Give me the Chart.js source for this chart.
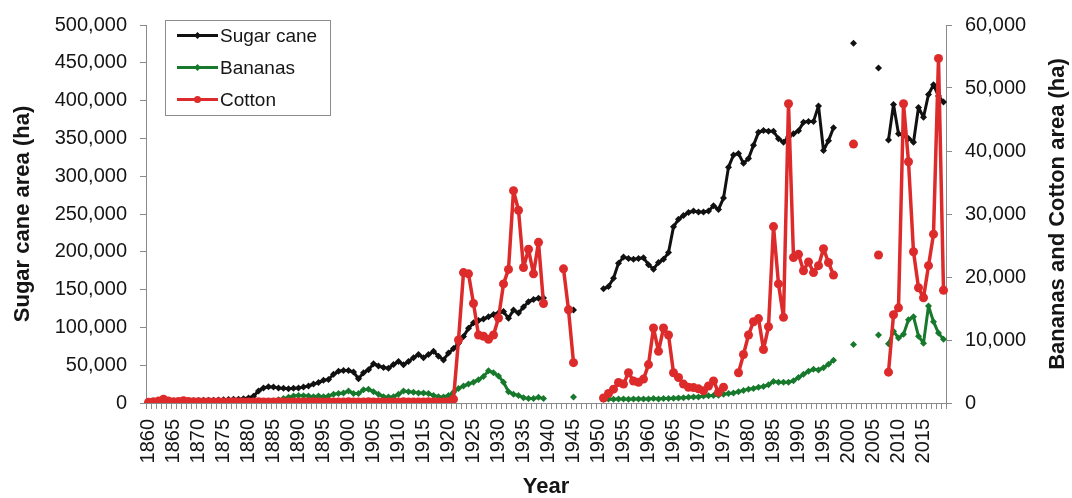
<!DOCTYPE html>
<html>
<head>
<meta charset="utf-8">
<title>Sugar cane, bananas and cotton area</title>
<script src="https://cdn.jsdelivr.net/npm/chart.js@4.4.1/dist/chart.umd.min.js"></script>
<style>
  html, body { margin: 0; padding: 0; background: #ffffff; }
  #wrap { width: 1072px; height: 498px; }
</style>
</head>
<body>
<div id="wrap"><canvas id="chart" width="1072" height="498"></canvas></div>
<script>
// Years 1860-2019, one category per year
const firstYear = 1860;
const lastYear = 2019;
const years = [];
for (let y = firstYear; y <= lastYear; y++) years.push(y);

// Sugar cane area (ha), left axis — one row per decade, null = no record
const sugarCane = [
  1500, 1500, 1800, 2000, 2000, 2200, 2300, 2500, 2800, 3000,               // 1860s
  3200, 3500, 3600, 3800, 4000, 4200, 4500, 4800, 5000, 5500,               // 1870s
  6500, 9000, 16000, 20000, 21500, 21000, 20000, 19500, 19000, 19500,       // 1880s
  20000, 21000, 22500, 25000, 27000, 30000, 31000, 38000, 42000, 43000,     // 1890s
  43000, 41000, 32000, 40000, 44000, 52000, 49000, 47000, 46000, 51000,     // 1900s
  55000, 50500, 55000, 60000, 64000, 60000, 64000, 68500, 62000, 57000,     // 1910s
  66000, 72000, 79000, 88000, 99000, 106000, 109000, 111000, 114000, 117000, // 1920s
  119000, 121000, 112000, 123000, 119000, 127000, 134000, 137000, 138500, 139000, // 1930s
  null, null, null, null, 126000, 123000, null, null, null, null,           // 1940s
  null, 151000, 154000, 165000, 185000, 193000, 191000, 190000, 191000, 192000, // 1950s
  183000, 177000, 186000, 190000, 199000, 233000, 243000, 248000, 252000, 254000, // 1960s
  252500, 252500, 254000, 261000, 256000, 271000, 312000, 328000, 330000, 317000, // 1970s
  323500, 341000, 358000, 360500, 359500, 359500, 349500, 345000, 352000, 356000, // 1980s
  360000, 371500, 372500, 372500, 393000, 334000, 347000, 364000, null, null,     // 1990s
  null, 476000, null, null, null, null, 443000, null, 348000, 395000,       // 2000s
  356000, 354000, 350000, 345000, 391000, 378000, 408000, 421000, 406000, 398000  // 2010s
];

// Banana area (ha), right axis
const bananas = [
  150, 150, 200, 200, 150, 150, 200, 200, 150, 150,          // 1860s
  150, 150, 150, 200, 200, 150, 150, 200, 200, 200,          // 1870s
  200, 200, 200, 250, 250, 300, 500, 700, 900, 1100,         // 1880s
  1200, 1150, 1100, 1000, 1100, 1000, 1100, 1400, 1500, 1600, // 1890s
  1900, 1500, 1500, 2100, 2200, 1800, 1400, 1000, 950, 1000, // 1900s
  1400, 1900, 1800, 1700, 1600, 1600, 1500, 1200, 1000, 950, // 1910s
  1200, 1700, 2300, 2700, 3000, 3300, 3700, 4200, 5100, 4800, // 1920s
  4300, 3300, 1800, 1400, 1200, 850, 700, 700, 900, 700,     // 1930s
  null, null, null, null, null, 950, null, null, null, null, // 1940s
  null, 600, 650, 600, 650, 650, 600, 650, 650, 650,         // 1950s
  650, 700, 650, 700, 700, 750, 800, 850, 900, 950,          // 1960s
  950, 1100, 1150, 1200, 1250, 1400, 1500, 1600, 1800, 2000, // 1970s
  2200, 2300, 2500, 2600, 2900, 3400, 3300, 3300, 3300, 3550, // 1980s
  4050, 4550, 5050, 5350, 5250, 5600, 6150, 6800, null, null, // 1990s
  null, 9300, null, null, null, null, 10800, null, 9400, 11400, // 2000s
  10300, 10900, 13200, 13700, 10600, 9500, 15400, 12900, 11100, 10100 // 2010s
];

// Cotton area (ha), right axis
const cotton = [
  100, 200, 300, 600, 300, 200, 250, 350, 250, 200,          // 1860s
  200, 150, 200, 150, 200, 150, 150, 200, 150, 150,          // 1870s
  150, 150, 200, 150, 150, 150, 200, 150, 150, 150,          // 1880s
  150, 150, 150, 200, 150, 150, 150, 150, 150, 150,          // 1890s
  200, 150, 150, 150, 200, 150, 150, 150, 150, 150,          // 1900s
  150, 200, 150, 150, 150, 150, 200, 150, 150, 150,          // 1910s
  200, 600, 10000, 20700, 20500, 15800, 10800, 10600, 10100, 10800, // 1920s
  13500, 18900, 21200, 33700, 30600, 21500, 24400, 20500, 25500, 15800, // 1930s
  null, null, null, 21300, 14800, 6400, null, null, null, null, // 1940s
  null, 800, 1500, 2200, 3250, 3000, 4800, 3500, 3300, 3800, // 1950s
  6100, 11900, 8200, 11900, 10800, 4800, 4050, 3000, 2500, 2450, // 1960s
  2250, 1950, 2700, 3500, 1700, 2500, null, null, 4800, 7700, // 1970s
  10800, 12900, 13400, 8500, 12100, 28000, 18900, 13600, 47500, 23100, // 1980s
  23600, 21000, 22400, 20700, 21800, 24500, 22300, 20300, null, null, // 1990s
  null, 41100, null, null, null, null, 23500, null, 4900, 14000, // 2000s
  15100, 47500, 38300, 24000, 18300, 16700, 21800, 26800, 54700, 17900 // 2010s
];

const FONT = '"Liberation Sans", Arial, sans-serif';
const AXIS_GREY = '#8a8a8a';
const TEXT = '#151515';
const RIGHT_TITLE = 'Bananas and Cotton area (ha)';

// Boxed legend inside the plot, top-left
const insetLegend = {
  id: 'insetLegend',
  afterDraw(chart) {
    const ctx = chart.ctx;
    const x0 = 165.5, y0 = 20.5, w = 165, h = 95;
    ctx.save();
    ctx.fillStyle = '#ffffff';
    ctx.fillRect(x0, y0, w, h);
    ctx.strokeStyle = '#8c8c8c';
    ctx.lineWidth = 1;
    ctx.strokeRect(x0, y0, w, h);
    chart.data.datasets.forEach((ds, i) => {
      const cy = 35.5 + i * 32;
      ctx.strokeStyle = ds.borderColor;
      ctx.fillStyle = ds.borderColor;
      ctx.lineWidth = 3;
      ctx.beginPath();
      ctx.moveTo(177, cy);
      ctx.lineTo(218, cy);
      ctx.stroke();
      const mx = 197.5;
      ctx.beginPath();
      if (ds.pointStyle === 'circle') {
        ctx.arc(mx, cy, 3.5, 0, Math.PI * 2);
      } else {
        const r = 3.5;
        ctx.moveTo(mx, cy - r);
        ctx.lineTo(mx + r, cy);
        ctx.lineTo(mx, cy + r);
        ctx.lineTo(mx - r, cy);
        ctx.closePath();
      }
      ctx.fill();
      ctx.fillStyle = TEXT;
      ctx.font = '19px ' + FONT;
      ctx.textBaseline = 'middle';
      ctx.textAlign = 'left';
      ctx.fillText(ds.label, 220, cy + 1);
    });
    ctx.restore();
  }
};

// Right axis title, reading bottom-to-top like the left one
const rightTitle = {
  id: 'rightTitle',
  afterDraw(chart) {
    const ctx = chart.ctx;
    const area = chart.chartArea;
    ctx.save();
    ctx.translate(chart.width - 14, (area.top + area.bottom) / 2);
    ctx.rotate(-Math.PI / 2);
    ctx.fillStyle = TEXT;
    ctx.font = 'bold 22px ' + FONT;
    ctx.textAlign = 'center';
    ctx.textBaseline = 'middle';
    ctx.fillText(RIGHT_TITLE, 0, 0);
    ctx.restore();
  }
};

const thousands = v => v.toLocaleString('en-US');

const lineStyle = { borderJoinStyle: 'round', borderCapStyle: 'round' };

new Chart(document.getElementById('chart'), {
  type: 'line',
  data: {
    labels: years,
    datasets: [
      Object.assign({
        label: 'Sugar cane',
        data: sugarCane,
        yAxisID: 'y',
        borderColor: '#111111',
        backgroundColor: '#111111',
        borderWidth: 3,
        pointStyle: 'rectRot',
        pointRadius: 3.5,
        pointBorderWidth: 0,
        order: 2
      }, lineStyle),
      Object.assign({
        label: 'Bananas',
        data: bananas,
        yAxisID: 'y2',
        borderColor: '#17792c',
        backgroundColor: '#17792c',
        borderWidth: 3,
        pointStyle: 'rectRot',
        pointRadius: 3.5,
        pointBorderWidth: 0,
        order: 1
      }, lineStyle),
      Object.assign({
        label: 'Cotton',
        data: cotton,
        yAxisID: 'y2',
        borderColor: '#dd2b2b',
        backgroundColor: '#dd2b2b',
        borderWidth: 3.5,
        pointStyle: 'circle',
        pointRadius: 4.5,
        pointBorderWidth: 0,
        order: 0
      }, lineStyle)
    ]
  },
  options: {
    responsive: false,
    animation: false,
    spanGaps: false,
    layout: { padding: { top: 20, left: 0, right: 0, bottom: 0 } },
    plugins: {
      legend: { display: false },
      tooltip: { enabled: false }
    },
    elements: { line: { tension: 0 } },
    scales: {
      x: {
        type: 'category',
        offset: true,
        grid: {
          display: true,
          drawOnChartArea: false,
          drawTicks: true,
          tickLength: 6,
          color: AXIS_GREY,
          offset: true
        },
        border: { display: true, color: AXIS_GREY, width: 1 },
        ticks: {
          autoSkip: false,
          minRotation: 90,
          maxRotation: 90,
          padding: 10,
          color: TEXT,
          font: { family: FONT, size: 20 },
          callback: function (val, idx) {
            const yr = years[idx];
            return yr % 5 === 0 ? String(yr) : '';
          }
        },
        title: {
          display: true,
          text: 'Year',
          color: TEXT,
          font: { family: FONT, size: 22, weight: 'bold', lineHeight: 1 },
          padding: { top: 0, bottom: 0 }
        },
        afterFit(scale) { scale.height = 95; }
      },
      y: {
        position: 'left',
        min: 0,
        max: 500000,
        grid: {
          display: true,
          drawOnChartArea: false,
          drawTicks: true,
          tickLength: 6,
          color: AXIS_GREY
        },
        border: { display: true, color: AXIS_GREY, width: 1 },
        ticks: {
          stepSize: 50000,
          padding: 13,
          color: TEXT,
          font: { family: FONT, size: 20 },
          callback: v => thousands(v)
        },
        title: {
          display: true,
          text: 'Sugar cane area (ha)',
          color: TEXT,
          font: { family: FONT, size: 22, weight: 'bold', lineHeight: 1.2 },
          padding: { top: 10, bottom: 0 }
        },
        afterFit(scale) { scale.width = 146; }
      },
      y2: {
        position: 'right',
        min: 0,
        max: 60000,
        grid: {
          display: true,
          drawOnChartArea: false,
          drawTicks: true,
          tickLength: 6,
          color: AXIS_GREY
        },
        border: { display: true, color: AXIS_GREY, width: 1 },
        ticks: {
          stepSize: 10000,
          padding: 13,
          color: TEXT,
          font: { family: FONT, size: 20 },
          callback: v => thousands(v)
        },
        title: { display: false },
        afterFit(scale) { scale.width = 126; }
      }
    }
  },
  plugins: [insetLegend, rightTitle]
});
</script>
</body>
</html>
